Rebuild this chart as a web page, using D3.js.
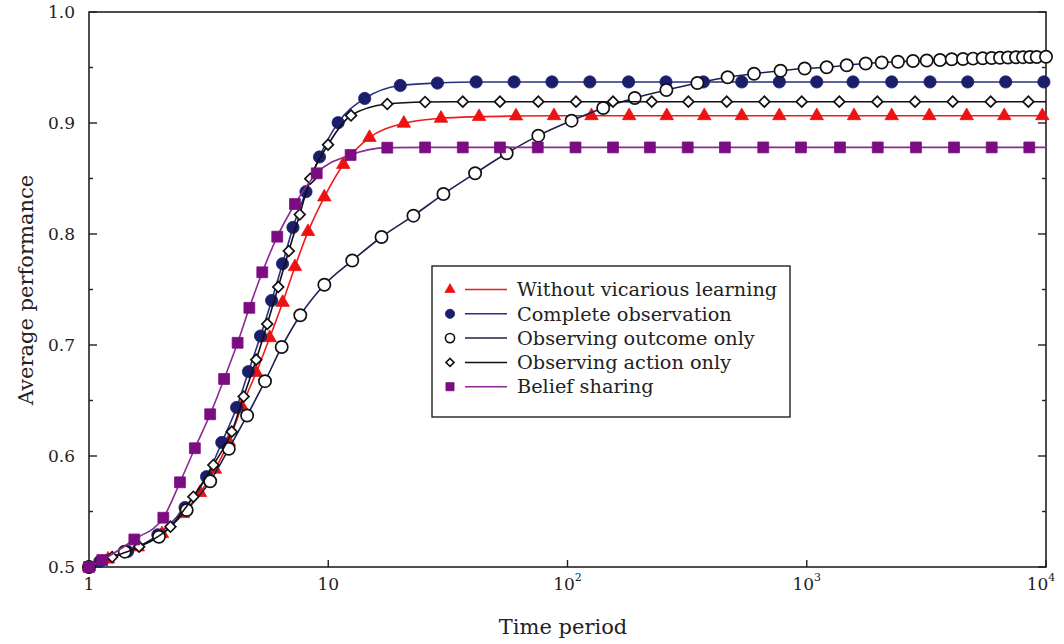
<!DOCTYPE html>
<html>
<head>
<meta charset="utf-8">
<script src="https://cdn.jsdelivr.net/npm/d3@7/dist/d3.min.js"></script>
<style>
  html, body { margin: 0; padding: 0; background: #fff; }
  svg { display: block; font-family: "DejaVu Serif", serif; }
</style>
</head>
<body>
<svg id="chart" width="1064" height="644"></svg>
<script>
// ---- data -------------------------------------------------------------
const seriesNames = [
  "Without vicarious learning",
  "Complete observation",
  "Observing outcome only",
  "Observing action only",
  "Belief sharing"
];

// Without vicarious learning
const noVicT = [1, 1.2, 1.6, 2.02, 2.47, 2.91, 3.36, 3.84, 4.35, 5.0, 5.69, 6.45, 7.26, 8.23, 9.63, 11.56, 14.87, 20.7, 29.6, 42.7, 60.9, 87.8, 126, 181, 260, 373, 535, 768, 1101, 1576, 2265, 3253, 4661, 6694, 9652];
const noVicV = [0.5, 0.507, 0.518, 0.530, 0.548, 0.567, 0.588, 0.613, 0.6446, 0.6752, 0.7065, 0.7383, 0.7705, 0.8021, 0.8333, 0.8626, 0.8869, 0.8997, 0.9042, 0.9057, 0.9063, 0.9065, 0.9065, 0.9065, 0.9065, 0.9065, 0.9065, 0.9065, 0.9065, 0.9065, 0.9065, 0.9065, 0.9065, 0.9065, 0.9065];

// Complete observation
const completeT = [1, 1.11, 1.45, 1.94, 2.52, 3.10, 3.59, 4.14, 4.64, 5.21, 5.80, 6.44, 7.12, 8.07, 9.19, 11.0, 14.2, 20.0, 28.6, 41.5, 59.8, 86.1, 124, 180, 258, 370, 535, 768, 1101, 1561, 2265, 3276, 4707, 6784, 9800];
const completeV = [0.5, 0.505, 0.514, 0.529, 0.5536, 0.5814, 0.6122, 0.6437, 0.676, 0.7081, 0.7401, 0.7732, 0.8059, 0.8381, 0.8694, 0.9003, 0.9221, 0.9338, 0.936, 0.937, 0.937, 0.937, 0.937, 0.937, 0.937, 0.937, 0.937, 0.937, 0.937, 0.937, 0.937, 0.937, 0.937, 0.937, 0.937];

// Observing outcome only
const outcomeT = [1, 1.41, 1.96, 2.56, 3.21, 3.84, 4.58, 5.44, 6.39, 7.64, 9.63, 12.6, 16.7, 22.7, 30.3, 41.1, 55.7, 75.5, 104, 141, 191, 259, 349, 467, 602, 777, 980, 1211, 1469, 1764, 2057, 2406, 2780, 3172, 3606, 4036, 4499, 4954, 5438, 5930, 6422, 6937, 7493, 8014, 8574, 9145, 10000];
const outcomeV = [0.5, 0.5138, 0.5273, 0.5514, 0.5772, 0.6065, 0.6365, 0.6674, 0.6982, 0.7268, 0.7543, 0.7761, 0.7973, 0.8165, 0.836, 0.8547, 0.8727, 0.8886, 0.9021, 0.9135, 0.9225, 0.9297, 0.936, 0.9412, 0.9444, 0.9471, 0.9491, 0.9502, 0.952, 0.9536, 0.9545, 0.9552, 0.9559, 0.9563, 0.9568, 0.9574, 0.9577, 0.958, 0.9583, 0.9586, 0.9588, 0.959, 0.9592, 0.9593, 0.9595, 0.9595, 0.9597];

// Observing action only
const actionT = [1, 1.25, 1.62, 2.19, 2.73, 3.31, 3.95, 4.43, 5.0, 5.56, 6.18, 6.84, 7.60, 8.41, 9.98, 12.45, 17.65, 25.4, 36.5, 52.2, 75.5, 108.5, 155, 225, 320, 463, 665, 953, 1368, 1972, 2835, 4074, 5873, 8437];
const actionV = [0.5, 0.509, 0.5183, 0.5363, 0.5633, 0.5919, 0.6219, 0.6536, 0.6868, 0.7189, 0.7523, 0.7847, 0.8176, 0.8498, 0.8805, 0.9068, 0.9171, 0.9189, 0.9192, 0.9192, 0.9192, 0.9192, 0.9192, 0.9192, 0.9192, 0.9192, 0.9192, 0.9192, 0.9192, 0.9192, 0.9192, 0.9192, 0.9192, 0.9192];

// Belief sharing
const beliefT = [1, 1.137, 1.547, 2.045, 2.40, 2.77, 3.21, 3.67, 4.18, 4.68, 5.30, 6.12, 7.26, 8.95, 12.4, 17.65, 25.4, 36.5, 52.2, 75.1, 108, 155, 221, 318, 455, 658, 946, 1377, 1980, 2861, 4126, 5930, 8515];
const beliefV = [0.5, 0.5063, 0.5248, 0.5444, 0.5763, 0.607, 0.6376, 0.6694, 0.702, 0.7335, 0.7655, 0.7976, 0.827, 0.8547, 0.8712, 0.8778, 0.878, 0.878, 0.878, 0.878, 0.878, 0.878, 0.878, 0.878, 0.878, 0.878, 0.878, 0.878, 0.878, 0.878, 0.878, 0.878, 0.878];

const xTickValues = [1, 10, 100, 1000, 10000];
const xTickExponents = [null, null, "2", "3", "4"];
const xTickBases = ["1", "10", "10", "10", "10"];
const yTickValues = [0.5, 0.6, 0.7, 0.8, 0.9, 1.0];
const yMinorValues = [0.55, 0.65, 0.75, 0.85, 0.95];

// ---- layout -------------------------------------------------------------
const svg = d3.select("#chart");
const L = 89, R = 1046, T = 12, B = 567;
const x = d3.scaleLog().domain([1, 10000]).range([L, R]);
const y = d3.scaleLinear().domain([0.5, 1.0]).range([B, T]);
const axisColor = "#222";

const styles = [
  { line: "#ee1c1c", symbol: "triangle", fill: "#ee1111", stroke: "#ee1111" },
  { line: "#2a2f80", symbol: "circle", fill: "#1b1f6b", stroke: "#1b1f6b" },
  { line: "#1c2050", symbol: "circle", fill: "#fff", stroke: "#111" },
  { line: "#111", symbol: "diamond", fill: "#fff", stroke: "#111" },
  { line: "#8a2a92", symbol: "square", fill: "#7b0c82", stroke: "#7b0c82" }
];

const series = [
  [noVicT, noVicV],
  [completeT, completeV],
  [outcomeT, outcomeV],
  [actionT, actionV],
  [beliefT, beliefV]
].map(([ts, vs], i) => ({
  name: seriesNames[i],
  style: styles[i],
  points: ts.map((t, k) => ({ t, v: vs[k] }))
}));

function symbolPath(kind, scale) {
  const s = scale || 1;
  if (kind === "triangle") return d3.symbol(d3.symbolTriangle, 78 * s * s)();
  if (kind === "circle") return d3.symbol(d3.symbolCircle, 118 * s * s)();
  if (kind === "square") return d3.symbol(d3.symbolSquare, 118 * s * s)();
  if (kind === "diamond") return d3.symbol(d3.symbolSquare, 58 * s * s)();
  return null;
}

// ---- axes box -----------------------------------------------------------
svg.append("rect")
  .attr("x", L).attr("y", T).attr("width", R - L).attr("height", B - T)
  .attr("fill", "none").attr("stroke", axisColor).attr("stroke-width", 1.6);

const ticks = svg.append("g").attr("stroke", axisColor).attr("stroke-width", 1.4);
yTickValues.forEach(v => {
  ticks.append("line").attr("x1", L).attr("x2", L + 8).attr("y1", y(v)).attr("y2", y(v));
  ticks.append("line").attr("x1", R).attr("x2", R - 8).attr("y1", y(v)).attr("y2", y(v));
});
yMinorValues.forEach(v => {
  ticks.append("line").attr("x1", L).attr("x2", L + 4).attr("y1", y(v)).attr("y2", y(v));
  ticks.append("line").attr("x1", R).attr("x2", R - 4).attr("y1", y(v)).attr("y2", y(v));
});
xTickValues.forEach(v => {
  ticks.append("line").attr("x1", x(v)).attr("x2", x(v)).attr("y1", B).attr("y2", B - 7);
});

// tick labels
svg.append("g").selectAll("text").data(yTickValues).join("text")
  .attr("x", L - 14).attr("y", d => y(d)).attr("dy", "0.35em")
  .attr("text-anchor", "end").attr("font-size", 17).attr("fill", "#222")
  .text(d => d3.format(".1f")(d));

const xl = svg.append("g").selectAll("text").data(xTickValues).join("text")
  .attr("x", (d, i) => x(d) - (i === 4 ? 5 : 0)).attr("y", 590)
  .attr("text-anchor", "middle").attr("font-size", 17).attr("fill", "#222");
xl.each(function(d, i) {
  const t = d3.select(this);
  t.append("tspan").text(xTickBases[i]);
  if (xTickExponents[i]) {
    t.append("tspan").attr("dy", -9).attr("font-size", 11).text(xTickExponents[i]);
  }
});

// axis titles
svg.append("text").attr("x", 563).attr("y", 634).attr("text-anchor", "middle")
  .attr("font-size", 21).attr("fill", "#222").text("Time period");
svg.append("text").attr("transform", "translate(33,290) rotate(-90)")
  .attr("text-anchor", "middle").attr("font-size", 21).attr("fill", "#222")
  .text("Average performance");

// ---- series -------------------------------------------------------------
const line = d3.line().x(d => x(d.t)).y(d => y(d.v)).curve(d3.curveMonotoneX);
const plot = svg.append("g");

series.forEach(s => {
  const last = s.points[s.points.length - 1];
  const path = last.t < 10000 ? s.points.concat([{ t: 10000, v: last.v }]) : s.points;
  plot.append("path").datum(path).attr("d", line)
    .attr("fill", "none").attr("stroke", s.style.line).attr("stroke-width", 1.6);
  plot.append("g").selectAll("path").data(s.points).join("path")
    .attr("d", symbolPath(s.style.symbol))
    .attr("transform", d => `translate(${x(d.t)},${y(d.v)})` + (s.style.symbol === "diamond" ? " rotate(45)" : ""))
    .attr("fill", s.style.fill).attr("stroke", s.style.stroke)
    .attr("stroke-width", s.style.fill === "#fff" ? 1.7 : 0.8);
});

// ---- legend -------------------------------------------------------------
const lg = svg.append("g");
lg.append("rect").attr("x", 432).attr("y", 266).attr("width", 358).attr("height", 151)
  .attr("fill", "#fff").attr("stroke", "#222").attr("stroke-width", 1.4);
series.forEach((s, i) => {
  const cy = 289.5 + i * 24.3;
  lg.append("path").attr("d", symbolPath(s.style.symbol, 0.75))
    .attr("transform", `translate(450,${cy})` + (s.style.symbol === "diamond" ? " rotate(45)" : ""))
    .attr("fill", s.style.fill).attr("stroke", s.style.stroke)
    .attr("stroke-width", s.style.fill === "#fff" ? 1.6 : 0.8);
  lg.append("line").attr("x1", 465).attr("x2", 507).attr("y1", cy).attr("y2", cy)
    .attr("stroke", s.style.line).attr("stroke-width", 1.5);
  lg.append("text").attr("x", 517).attr("y", cy).attr("dy", "0.35em")
    .attr("font-size", 19.3).attr("fill", "#222").text(s.name);
});
</script>
</body>
</html>
